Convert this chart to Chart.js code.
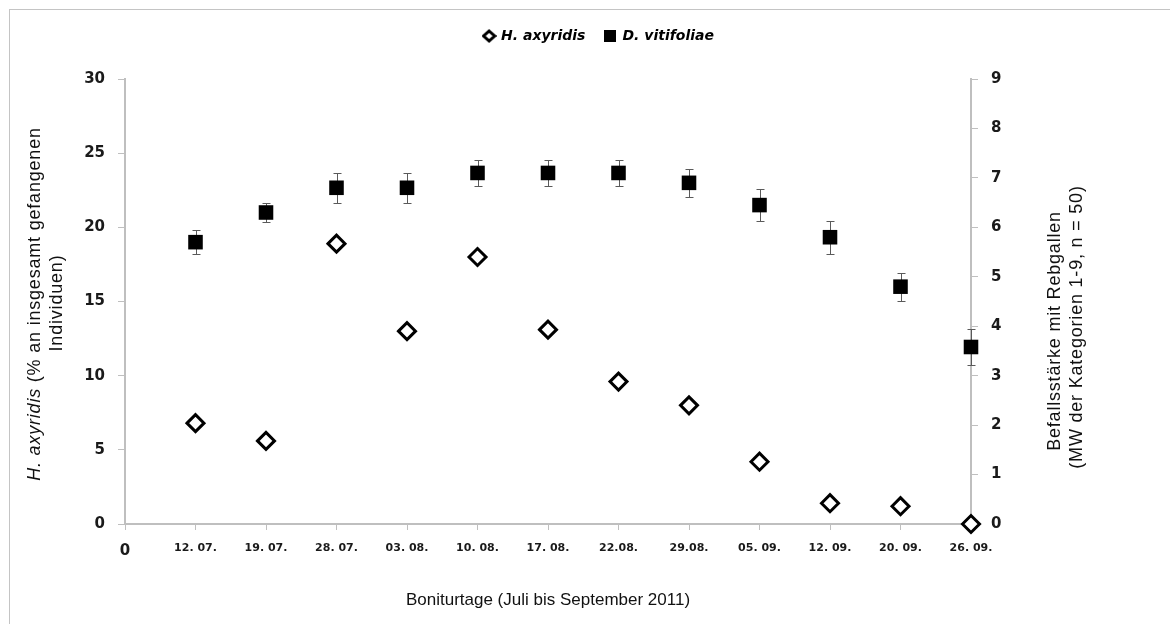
<!DOCTYPE html>
<html>
<head>
<meta charset="utf-8">
<script src="https://cdn.jsdelivr.net/npm/chart.js@4.4.1/dist/chart.umd.min.js"></script>
<style>
    html, body { margin: 0; padding: 0; background: #fff; }
    canvas { display: block; }
</style>
</head>
<body>
<canvas id="myChart" width="1170" height="624"></canvas>
<script>
// Boniturtage
const dates = ['12. 07.', '19. 07.', '28. 07.', '03. 08.', '10. 08.', '17. 08.',
               '22.08.', '29.08.', '05. 09.', '12. 09.', '20. 09.', '26. 09.'];
// H. axyridis, % an insgesamt gefangenen Individuen
const hAxyridis = [6.8, 5.6, 18.9, 13.0, 18.0, 13.1, 9.6, 8.0, 4.2, 1.4, 1.2, 0];
// D. vitifoliae, Befallsstärke (MW der Kategorien 1-9) und Fehlerbalken
const dVitifoliae = [5.7, 6.3, 6.8, 6.8, 7.1, 7.1, 7.1, 6.9, 6.45, 5.8, 4.8, 3.58];
const dVitifoliaeErr = [0.24, 0.2, 0.3, 0.3, 0.26, 0.26, 0.26, 0.28, 0.33, 0.33, 0.28, 0.36];

const axisGray = '#bfbfbf';
const tickColor = '#1a1a1a';
const tickFont = { family: 'DejaVu Sans', size: 15, weight: 'bold' };
const dateFont = { family: 'DejaVu Sans', size: 11, weight: 'bold' };

function icon(w, h, draw) {
    const c = document.createElement('canvas');
    c.width = w;
    c.height = h;
    draw(c.getContext('2d'), w, h);
    return c;
}

const legendIcons = [
    icon(15, 14, (g, w, h) => {
        g.beginPath();
        g.moveTo(w / 2, 2); g.lineTo(w - 2, h / 2); g.lineTo(w / 2, h - 2); g.lineTo(2, h / 2);
        g.closePath();
        g.fillStyle = '#fff';
        g.fill();
        g.lineWidth = 3;
        g.strokeStyle = '#000';
        g.stroke();
    }),
    icon(12, 12, (g, w, h) => {
        g.fillStyle = '#000';
        g.fillRect(0, 0, w, h);
    })
];

// frame round the figure
const framePlugin = {
    id: 'frame',
    beforeDraw(chart) {
        const g = chart.ctx;
        g.save();
        g.fillStyle = '#fff';
        g.fillRect(0, 0, chart.width, chart.height);
        g.strokeStyle = '#c4c4c4';
        g.lineWidth = 1;
        g.strokeRect(9.5, 9.5, chart.width + 20, chart.height + 20);
        g.restore();
    }
};

// extra room between legend and plot
const legendGapPlugin = {
    id: 'legendGap',
    afterInit(chart) {
        const legend = chart.legend;
        const fit = legend.fit;
        legend.fit = function () {
            fit.call(this);
            this.height += 26;
        };
    }
};

// standard error bars on the D. vitifoliae squares
const errorBarPlugin = {
    id: 'errorBars',
    beforeDatasetsDraw(chart) {
        const g = chart.ctx;
        const xs = chart.scales.x;
        const ys = chart.scales.y1;
        g.save();
        g.strokeStyle = '#5a5a5a';
        g.lineWidth = 1;
        dVitifoliae.forEach((v, i) => {
            const px = Math.round(xs.getPixelForValue(i + 1)) + 0.5;
            const top = Math.round(ys.getPixelForValue(v + dVitifoliaeErr[i])) + 0.5;
            const bot = Math.round(ys.getPixelForValue(v - dVitifoliaeErr[i])) + 0.5;
            g.beginPath();
            g.moveTo(px, top); g.lineTo(px, bot);
            g.moveTo(px - 4, top); g.lineTo(px + 4, top);
            g.moveTo(px - 4, bot); g.lineTo(px + 4, bot);
            g.stroke();
        });
        g.restore();
    }
};

// rotated y axis titles (first one has an italic species name)
function drawVertical(g, x, y, parts) {
    g.save();
    g.translate(x, y);
    g.rotate(-Math.PI / 2);
    g.textBaseline = 'middle';
    g.textAlign = 'left';
    g.fillStyle = '#111';
    g.letterSpacing = '0.8px';
    let total = 0;
    const widths = parts.map(p => {
        g.font = p.font;
        const w = g.measureText(p.text).width;
        total += w;
        return w;
    });
    let cx = -total / 2;
    parts.forEach((p, i) => {
        g.font = p.font;
        g.fillText(p.text, cx, 0);
        cx += widths[i];
    });
    g.restore();
}

const axisTitlePlugin = {
    id: 'axisTitles',
    afterDraw(chart) {
        const g = chart.ctx;
        const reg = '18px "Liberation Sans"';
        const ital = 'italic 18px "Liberation Sans"';
        drawVertical(g, 35, 304, [
            { text: 'H. axyridis', font: ital },
            { text: ' (% an insgesamt gefangenen', font: reg }
        ]);
        drawVertical(g, 57, 303, [{ text: 'Individuen)', font: reg }]);
        drawVertical(g, 1055, 331, [{ text: 'Befallsstärke mit Rebgallen', font: reg }]);
        drawVertical(g, 1077, 327, [{ text: '(MW der Kategorien 1-9, n = 50)', font: reg }]);
    }
};

const myChart = document.getElementById('myChart').getContext('2d');

new Chart(myChart, {
    type: 'scatter',
    data: {
        datasets: [{
            label: 'H. axyridis',
            data: hAxyridis.map((v, i) => ({ x: i + 1, y: v })),
            yAxisID: 'y',
            pointStyle: 'rectRot',
            pointRadius: 8.5,
            pointHoverRadius: 8.5,
            pointBorderWidth: 3,
            pointHoverBorderWidth: 3,
            pointBorderColor: '#000',
            pointBackgroundColor: '#fff',
            clip: false
        }, {
            label: 'D. vitifoliae',
            data: dVitifoliae.map((v, i) => ({ x: i + 1, y: v })),
            yAxisID: 'y1',
            pointStyle: 'rect',
            pointRadius: 10.3,
            pointHoverRadius: 10.3,
            pointBorderWidth: 0,
            pointHoverBorderWidth: 0,
            pointBorderColor: '#000',
            pointBackgroundColor: '#000',
            clip: false
        }]
    },
    options: {
        responsive: false,
        animation: false,
        events: [],
        layout: {
            padding: { top: 9, left: 28, right: 0, bottom: 0 }
        },
        plugins: {
            legend: {
                position: 'top',
                labels: {
                    usePointStyle: true,
                    boxWidth: 10,
                    boxHeight: 10,
                    padding: 20,
                    color: '#000',
                    font: { family: 'DejaVu Sans', size: 14, weight: 'bold', style: 'italic' },
                    generateLabels: chart => chart.data.datasets.map((ds, i) => ({
                        text: ds.label,
                        pointStyle: legendIcons[i],
                        fillStyle: '#000',
                        strokeStyle: '#000',
                        lineWidth: 0,
                        hidden: false,
                        datasetIndex: i
                    }))
                }
            },
            tooltip: { enabled: false }
        },
        scales: {
            x: {
                type: 'linear',
                min: 0,
                max: 12,
                afterFit: s => { s.height = 100; },
                ticks: {
                    stepSize: 1,
                    autoSkip: false,
                    maxRotation: 0,
                    padding: 12,
                    color: tickColor,
                    font: c => (c.index === 0 ? tickFont : dateFont),
                    callback: v => (v === 0 ? '0' : dates[v - 1])
                },
                grid: {
                    drawOnChartArea: false,
                    tickLength: 6,
                    tickColor: axisGray,
                    tickWidth: 1
                },
                border: { color: axisGray, width: 2 },
                title: {
                    display: true,
                    text: 'Boniturtage (Juli bis September 2011)',
                    color: '#111',
                    font: { family: 'Liberation Sans', size: 17 },
                    padding: { top: 0, bottom: 13 }
                }
            },
            y: {
                position: 'left',
                min: 0,
                max: 30,
                afterFit: s => { s.width = 97; s.paddingTop = 79; },
                ticks: {
                    stepSize: 5,
                    padding: 13,
                    color: tickColor,
                    font: tickFont
                },
                grid: {
                    drawOnChartArea: false,
                    tickLength: 7,
                    tickColor: axisGray,
                    tickWidth: 1
                },
                border: { color: axisGray, width: 2 }
            },
            y1: {
                position: 'right',
                min: 0,
                max: 9,
                afterFit: s => { s.width = 199; },
                ticks: {
                    stepSize: 1,
                    padding: 13,
                    color: tickColor,
                    font: tickFont
                },
                grid: {
                    drawOnChartArea: false,
                    tickLength: 7,
                    tickColor: axisGray,
                    tickWidth: 1
                },
                border: { color: axisGray, width: 2 }
            }
        }
    },
    plugins: [framePlugin, legendGapPlugin, errorBarPlugin, axisTitlePlugin]
});
</script>
</body>
</html>
